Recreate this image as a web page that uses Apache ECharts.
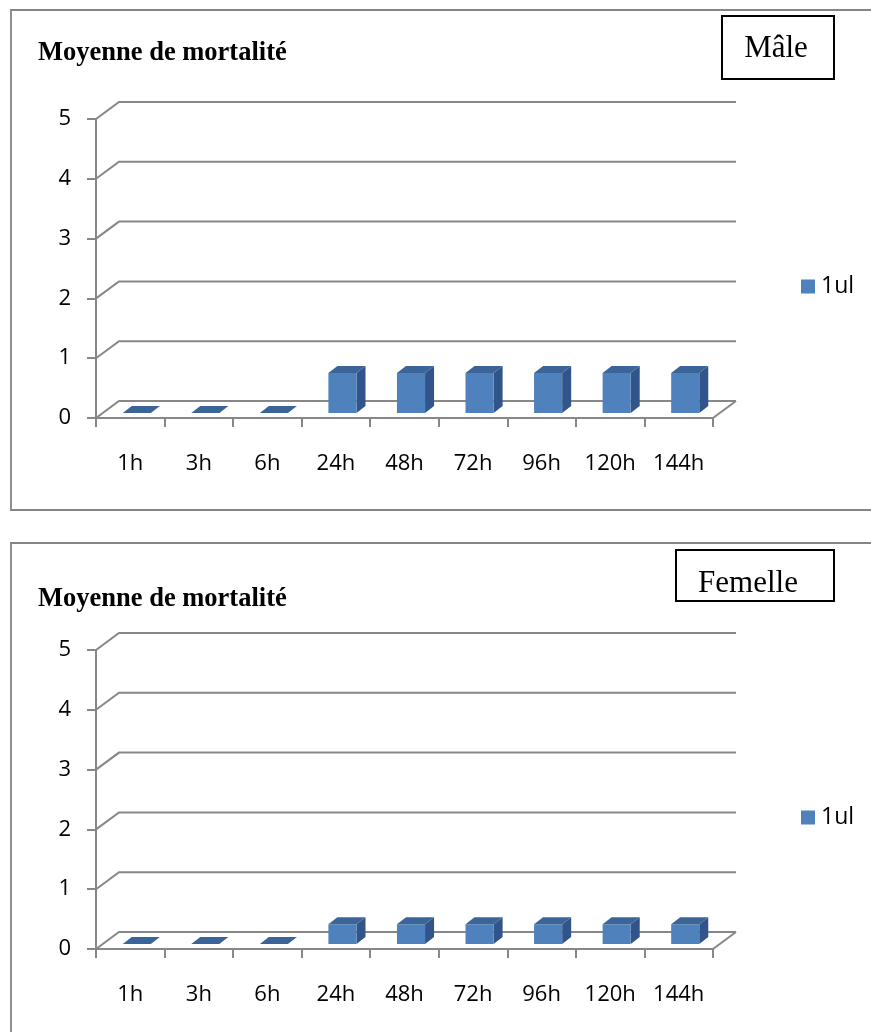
<!DOCTYPE html>
<html>
<head>
<meta charset="utf-8">
<title>Moyenne de mortalité</title>
<script src="https://cdn.jsdelivr.net/npm/echarts@6/dist/echarts.min.js"></script>
<style>
  html, body { margin: 0; padding: 0; background: #ffffff; }
  #chart { width: 871px; height: 1032px; }
</style>
</head>
<body>
<div id="chart"></div>
<script>
// Time points after exposure
const categories = ['1h', '3h', '6h', '24h', '48h', '72h', '96h', '120h', '144h'];
// Mean mortality, dose 1ul
const maleMortality = [0, 0, 0, 0.67, 0.67, 0.67, 0.67, 0.67, 0.67];
const femaleMortality = [0, 0, 0, 0.33, 0.33, 0.33, 0.33, 0.33, 0.33];
// Value-axis ticks (also used for the wall gridlines)
const yTicks = [0, 1, 2, 3, 4, 5];
const seriesName = '1ul';
const titleText = 'Moyenne de mortalité';
const panelLabels = ['Mâle', 'Femelle'];

// Pseudo-3D geometry (pixels)
const WALL_DX = 23, WALL_DY = 17;        // back wall offset
const BAR_OFF_X = 6.5, BAR_OFF_Y = 5;     // bar plane offset from front
const BAR_DX = 9, BAR_DY = 7;             // bar depth
const BAR_RATIO = 0.41;                   // bar width / band width

const GRID_COLOR = '#878787';
const LABEL_FONT = '"Open Sans", "Liberation Sans", sans-serif';
const SERIF = '"Liberation Serif", "Times New Roman", serif';

function renderWall(params, api) {
  const v = api.value(1);
  const band = api.size([1, 0])[0];
  const p = api.coord([0, v]);
  const x0 = p[0] - band / 2;
  const y = p[1];
  const xr = api.coord([categories.length - 1, v])[0] + band / 2;
  const children = [{
    type: 'polyline',
    shape: { points: [[x0, y], [x0 + WALL_DX, y - WALL_DY], [xr + WALL_DX, y - WALL_DY]] },
    style: { stroke: GRID_COLOR, lineWidth: 2, fill: null }
  }];
  if (v === 0) {
    children.push({
      type: 'line',
      shape: { x1: xr, y1: y, x2: xr + WALL_DX, y2: y - WALL_DY },
      style: { stroke: GRID_COLOR, lineWidth: 2 }
    });
  }
  return { type: 'group', children: children };
}

function renderBar(params, api) {
  const idx = api.value(0);
  const val = api.value(1);
  const band = api.size([1, 0])[0];
  const top = api.coord([idx, val]);
  const base = api.coord([idx, 0]);
  const w = band * BAR_RATIO;
  const fx = top[0] + BAR_OFF_X - w / 2;
  const ft = top[1] - BAR_OFF_Y;
  const fb = base[1] - BAR_OFF_Y;
  const children = [];
  if (fb - ft > 0.5) {
    children.push({
      type: 'polygon',
      shape: { points: [[fx + w, ft], [fx + w, fb], [fx + w + BAR_DX, fb - BAR_DY], [fx + w + BAR_DX, ft - BAR_DY]] },
      style: { fill: '#31558a' }
    });
    children.push({
      type: 'rect',
      shape: { x: fx, y: ft, width: w, height: fb - ft },
      style: { fill: '#4f81bd' }
    });
  }
  children.push({
    type: 'polygon',
    shape: { points: [[fx, ft], [fx + w, ft], [fx + w + BAR_DX, ft - BAR_DY], [fx + BAR_DX, ft - BAR_DY]] },
    style: { fill: '#3b6598' }
  });
  return { type: 'group', children: children };
}

const grids = [
  { left: 96, top: 119, width: 617, height: 299 },
  { left: 96, top: 650, width: 617, height: 299 }
];

function xAxisFor(gi) {
  return {
    type: 'category', gridIndex: gi, data: categories,
    axisLine: { lineStyle: { color: GRID_COLOR, width: 2 } },
    axisTick: { show: true, length: 9, lineStyle: { color: GRID_COLOR, width: 2 } },
    axisLabel: { color: '#000', fontFamily: LABEL_FONT, fontSize: 22, margin: 35 },
    splitLine: { show: false }
  };
}
function yAxisFor(gi) {
  return {
    type: 'value', gridIndex: gi, min: yTicks[0], max: yTicks[yTicks.length - 1], interval: 1,
    axisLine: { show: true, lineStyle: { color: GRID_COLOR, width: 2 } },
    axisTick: { show: true, length: 9, lineStyle: { color: GRID_COLOR, width: 2 } },
    axisLabel: { color: '#000', fontFamily: LABEL_FONT, fontSize: 22, margin: 25 },
    splitLine: { show: false }
  };
}

const wallData = yTicks.map(v => [0, v]);

function seriesFor(gi, values) {
  return [
    {
      type: 'custom', name: 'wall' + gi, xAxisIndex: gi, yAxisIndex: gi,
      renderItem: renderWall, data: wallData, encode: { x: 0, y: 1 },
      clip: false, z: 1, silent: true
    },
    {
      type: 'custom', name: seriesName, xAxisIndex: gi, yAxisIndex: gi,
      renderItem: renderBar, data: values.map((v, i) => [i, v]), encode: { x: 0, y: 1 },
      itemStyle: { color: '#4f81bd' }, clip: false, z: 3
    }
  ];
}

function legendFor(top) {
  return {
    data: [seriesName], left: 801, top: top, padding: 0,
    icon: 'rect', itemWidth: 14, itemHeight: 14, itemGap: 5,
    textStyle: { color: '#000', fontFamily: LABEL_FONT, fontSize: 23, padding: [0, 0, 0, 1] },
    selectedMode: false
  };
}

function panelGraphics(frameTop, frameH, titleY, box, label, labelCenter) {
  return [
    {
      type: 'rect', shape: { x: 11, y: frameTop, width: 900, height: frameH },
      style: { fill: null, stroke: '#858585', lineWidth: 1.8 }, z: -1
    },
    {
      type: 'text', left: 38, top: titleY - 12,
      style: { text: titleText, font: 'bold 26.5px ' + SERIF, fill: '#000' }
    },
    {
      type: 'rect', shape: box,
      style: { fill: '#fff', stroke: '#000', lineWidth: 2 }
    },
    {
      type: 'text', x: labelCenter[0], y: labelCenter[1],
      style: { text: label, font: '31px ' + SERIF, fill: '#000', align: 'center', verticalAlign: 'middle' }
    }
  ];
}

const chart = echarts.init(document.getElementById('chart'), null, { renderer: 'canvas' });
chart.setOption({
  animation: false,
  backgroundColor: '#ffffff',
  grid: grids,
  xAxis: [xAxisFor(0), xAxisFor(1)],
  yAxis: [yAxisFor(0), yAxisFor(1)],
  legend: [legendFor(275), legendFor(806)],
  series: seriesFor(0, maleMortality).concat(seriesFor(1, femaleMortality)),
  graphic: panelGraphics(10, 500, 52, { x: 722, y: 16, width: 112, height: 63 }, panelLabels[0], [776, 49])
    .concat(panelGraphics(543, 520, 598, { x: 676, y: 550, width: 158, height: 51 }, panelLabels[1], [748, 584]))
});
</script>
</body>
</html>
